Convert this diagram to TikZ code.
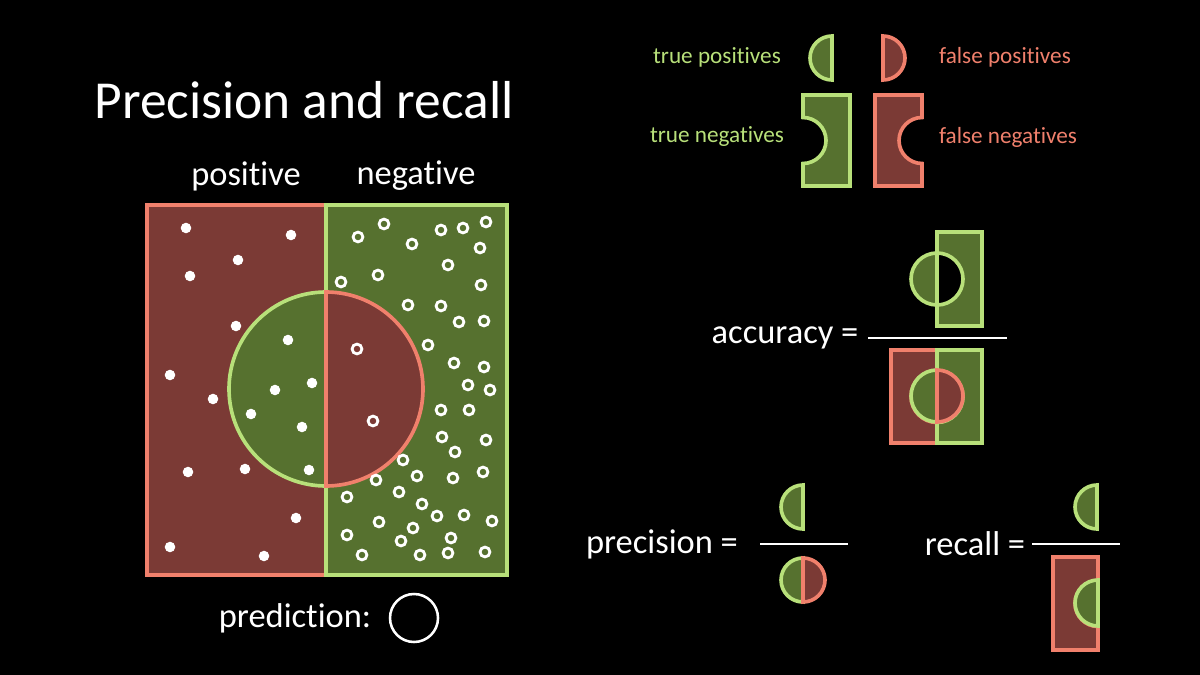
\documentclass[tikz,border=0pt]{standalone}
\usepackage{fontspec}
\setmainfont{Carlito}[Ligatures=NoCommon]
\definecolor{redfill}{HTML}{7B3A35}
\definecolor{redline}{HTML}{F0806C}
\definecolor{greenfill}{HTML}{56712F}
\definecolor{greenline}{HTML}{B8E07A}
\tikzset{
    tp/.style={fill=greenfill, draw=greenline, line width=2.6pt},
    fp/.style={fill=redfill, draw=redline, line width=2.6pt},
    hit/.style={circle, fill=white, inner sep=0pt, minimum size=7.5pt},
    miss/.style={circle, draw=white, line width=2pt, inner sep=0pt, minimum size=7pt},
    label/.style={text=white, font=\fontsize{24.5}{28}\selectfont},
    legend/.style={font=\fontsize{16.5}{19}\selectfont}
}
% half discs and notched rectangles, pixel coordinates
\newcommand{\TPhalf}[3]{\draw[tp] (#1,#2-#3) arc[start angle=270,end angle=90,radius=#3] -- cycle;}
\newcommand{\FPhalf}[3]{\draw[fp] (#1,#2-#3) arc[start angle=-90,end angle=90,radius=#3] -- cycle;}
\newcommand{\TNrect}[5]{\draw[tp] (#1,#3) -- (#2,#3) -- (#2,#4) -- (#1,#4) -- (#1,{(#3+#4)/2+#5}) arc[start angle=90,end angle=-90,radius=#5] -- cycle;}
\newcommand{\FNrect}[5]{\draw[fp] (#1,#3) -- (#2,#3) -- (#2,{(#3+#4)/2-#5}) arc[start angle=270,end angle=90,radius=#5] -- (#2,#4) -- (#1,#4) -- cycle;}
\begin{document}
\begin{tikzpicture}[x=0.025cm, y=-0.025cm]
    \fill[black] (0,0) rectangle (1200,675);
    \useasboundingbox (0,0) rectangle (1200,675);

    % Title and column labels
    \node[text=white, font=\fontsize{38}{42}\selectfont] (title) at (304,100) {Precision and recall};
    \node[label] (posLabel) at (246,176) {positive};
    \node[label] (negLabel) at (416,176) {negative};

    % Data set
    \draw[fp] (147,205) rectangle (326,575);
    \draw[tp] (326,205) rectangle (507,575);
    \TPhalf{326}{389}{97}
    \FPhalf{326}{389}{97}

    \foreach \x/\y [count=\i] in {186/228,291/235,238/260,190/276,236/326,288/340,170/375,213/399,
        275/390,312/383,251/414,302/427,188/472,245/469,309/470,296/518,170/547,264/556}
        \node[hit] (hit\i) at (\x,\y) {};
    \foreach \x/\y [count=\i] in {358/237,384/224,412/244,441/230,463/228,486/222,480/248,448/265,
        378/275,341/282,481/285,408/305,441/306,459/322,484/321,428/345,357/349,454/363,484/367,
        490/390,468/385,441/410,469/410,373/421,442/437,486/440,455/452,403/460,417/476,453/478,
        483/472,376/480,347/497,399/492,422/504,437/516,464/515,492/521,379/522,347/535,413/528,
        451/538,362/555,420/555,448/553,485/552,401/541}
        \node[miss] (miss\i) at (\x,\y) {};

    \node[label] (predLabel) at (295,618) {prediction:};
    \draw[white, line width=1.8pt] (414,618) circle[radius=24];

    % Legend
    \node[legend, text=greenline] (tpText) at (717,57) {true positives};
    \node[legend, text=redline] (fpText) at (1005,57) {false positives};
    \node[legend, text=greenline] (tnText) at (717,137) {true negatives};
    \node[legend, text=redline] (fnText) at (1008,137) {false negatives};
    \TPhalf{832}{58}{22}
    \FPhalf{883}{58}{22}
    \TNrect{803}{850}{95}{186}{23}
    \FNrect{875}{922}{95}{186}{23}

    % Accuracy
    \node[label] (accText) at (785,338) {accuracy =};
    \draw[white, line width=1.8pt] (868,338) -- (1007,338);
    \TNrect{937}{982}{232}{326}{26}
    \TPhalf{937}{279}{26}
    \FNrect{891}{937}{350}{443}{26}
    \TNrect{937}{982}{350}{443}{26}
    \TPhalf{937}{396}{26}
    \FPhalf{937}{396}{26}

    % Precision
    \node[label] (precText) at (662,544) {precision =};
    \draw[white, line width=1.8pt] (760,544) -- (848,544);
    \TPhalf{803}{507}{22}
    \TPhalf{803}{580}{22}
    \FPhalf{803}{580}{22}

    % Recall
    \node[label] (recText) at (975,544) {recall =};
    \draw[white, line width=1.8pt] (1032,544) -- (1120,544);
    \TPhalf{1097}{507}{22}
    \FNrect{1053}{1098}{557}{650}{23}
    \TPhalf{1098}{603}{23}
\end{tikzpicture}
\end{document}
